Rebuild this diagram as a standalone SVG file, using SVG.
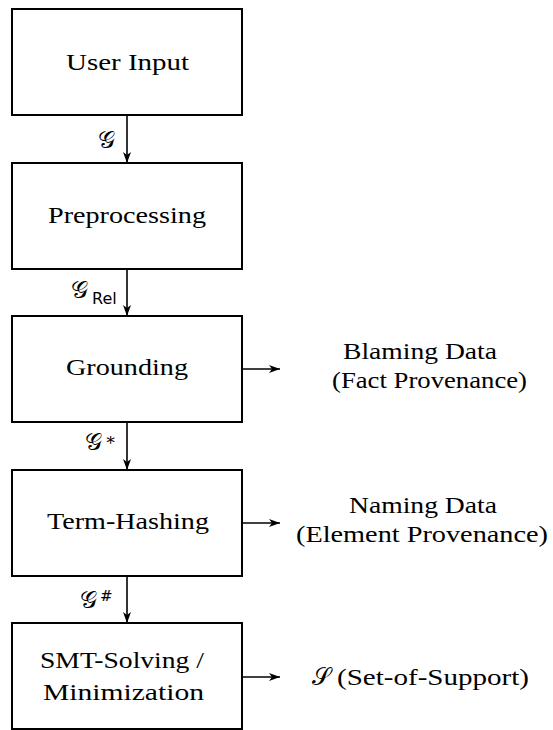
<svg xmlns="http://www.w3.org/2000/svg" width="553" height="730" viewBox="0 0 553 730">
<defs>
<marker id="ah" markerWidth="11" markerHeight="8" refX="11" refY="4" orient="auto" markerUnits="userSpaceOnUse">
<path d="M0,0 L11,4 L0,8 L3,4 Z" fill="#000"/>
</marker>
<style>
.box{fill:#fff;stroke:#000;stroke-width:2}
.c{stroke:#000;stroke-width:1.6;fill:none;marker-end:url(#ah)}
</style>
</defs>
<rect width="553" height="730" fill="#fff"/>
<g id="connectors">
<line class="c" x1="127" y1="115" x2="127" y2="163"/>
<line class="c" x1="127" y1="269" x2="127" y2="316"/>
<line class="c" x1="127" y1="422" x2="127" y2="470"/>
<line class="c" x1="127" y1="576" x2="127" y2="623"/>
<line class="c" x1="242" y1="369" x2="280" y2="369"/>
<line class="c" x1="242" y1="523" x2="280" y2="523"/>
<line class="c" x1="242" y1="677" x2="280" y2="677"/>
<g font-family="DejaVu Serif, serif" font-size="24" fill="#000">
<text x="98" y="148">𝒢</text>
<text x="71" y="298">𝒢</text>
<text x="85" y="450">𝒢</text>
<text x="80" y="608">𝒢</text>
</g>
<text x="92" y="304" font-family="DejaVu Sans, sans-serif" font-size="16">Rel</text>
<text x="105" y="445" font-family="DejaVu Serif, serif" font-size="17">∗</text>
<text x="100" y="601" font-family="DejaVu Serif, serif" font-size="15">#</text>
</g>
<g font-family="Liberation Serif, DejaVu Serif, serif" font-size="23" fill="#000">
<g id="user-input">
<rect class="box" x="12" y="9" width="230" height="106"/>
<text x="66" y="70" textLength="123" lengthAdjust="spacingAndGlyphs">User Input</text>
</g>
<g id="preprocessing">
<rect class="box" x="12" y="163" width="230" height="106"/>
<text x="48" y="223" textLength="158" lengthAdjust="spacingAndGlyphs">Preprocessing</text>
</g>
<g id="grounding">
<rect class="box" x="12" y="316" width="230" height="106"/>
<text x="66" y="375" textLength="122" lengthAdjust="spacingAndGlyphs">Grounding</text>
</g>
<g id="term-hashing">
<rect class="box" x="12" y="470" width="230" height="106"/>
<text x="47" y="529" textLength="162" lengthAdjust="spacingAndGlyphs">Term-Hashing</text>
</g>
<g id="smt-solving">
<rect class="box" x="12" y="623" width="230" height="106"/>
<text x="40" y="668" textLength="164" lengthAdjust="spacingAndGlyphs">SMT-Solving /</text>
<text x="43" y="700" textLength="161" lengthAdjust="spacingAndGlyphs">Minimization</text>
</g>
<g id="blaming-data">
<text x="343" y="359" textLength="154" lengthAdjust="spacingAndGlyphs">Blaming Data</text>
<text x="332" y="388" textLength="195" lengthAdjust="spacingAndGlyphs">(Fact Provenance)</text>
</g>
<g id="naming-data">
<text x="349" y="513" textLength="148" lengthAdjust="spacingAndGlyphs">Naming Data</text>
<text x="296" y="542" textLength="252" lengthAdjust="spacingAndGlyphs">(Element Provenance)</text>
</g>
<g id="set-of-support">
<text x="312" y="685" font-family="DejaVu Serif, serif" font-size="24">𝒮</text>
<text x="337" y="685" textLength="192" lengthAdjust="spacingAndGlyphs">(Set-of-Support)</text>
</g>
</g>
</svg>
